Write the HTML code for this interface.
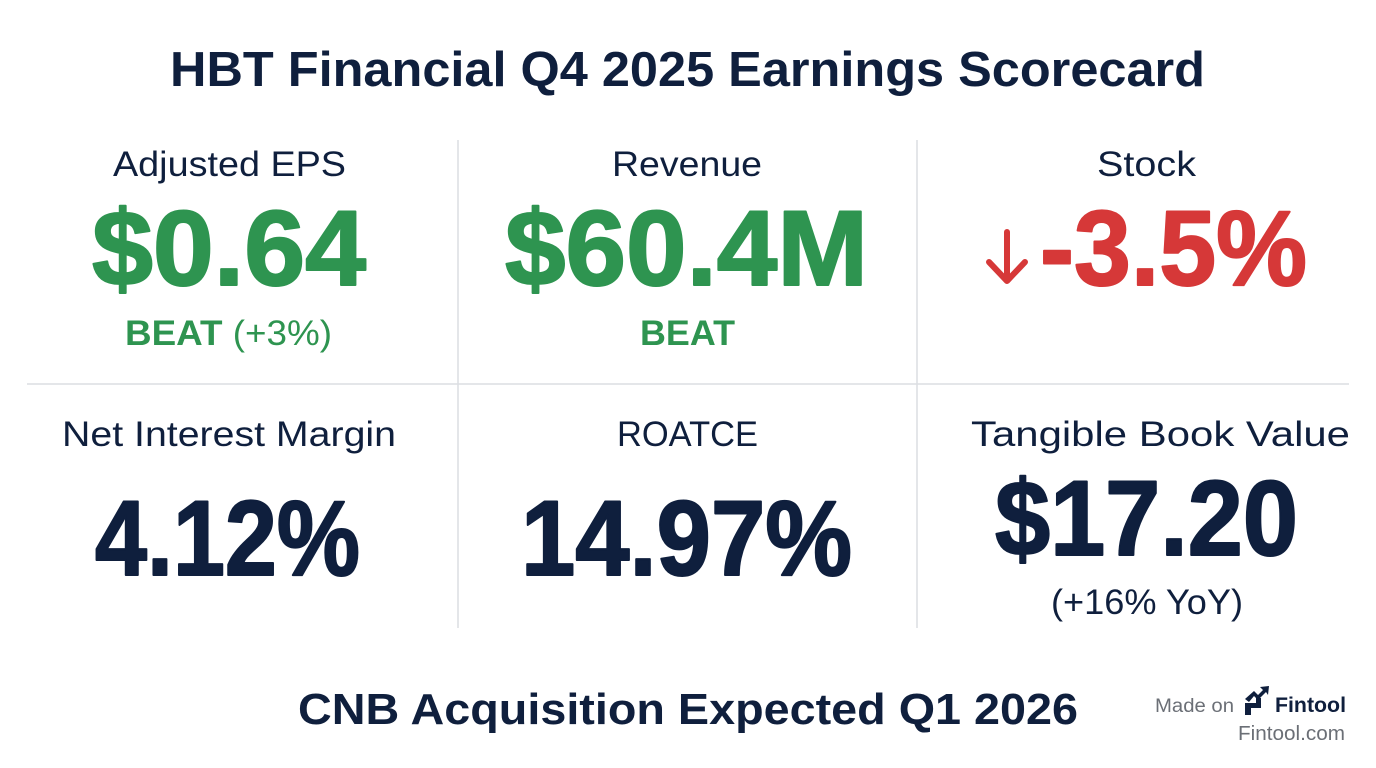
<!DOCTYPE html>
<html><head><meta charset="utf-8"><style>
html,body{margin:0;padding:0;background:#fff}
svg{display:block}
text{font-family:"Liberation Sans",sans-serif}
</style></head><body>
<svg width="1376" height="768" viewBox="0 0 1376 768">
<rect width="1376" height="768" fill="#fff"/>
<g stroke="#dcdee2" stroke-width="1.5">
<line x1="458" y1="140" x2="458" y2="628"/>
<line x1="917" y1="140" x2="917" y2="628"/>
<line x1="27" y1="384" x2="1349" y2="384"/>
</g>
<text x="170" y="86" font-size="49" font-weight="bold" fill="#0f1f3d" textLength="1035" lengthAdjust="spacingAndGlyphs">HBT Financial Q4 2025 Earnings Scorecard</text>

<g fill="#0f1f3d" font-size="35">
<text x="113" y="176" textLength="233" lengthAdjust="spacingAndGlyphs">Adjusted EPS</text>
<text x="612" y="176" textLength="150" lengthAdjust="spacingAndGlyphs">Revenue</text>
<text x="1097" y="176" textLength="99" lengthAdjust="spacingAndGlyphs">Stock</text>
<text x="62" y="446" textLength="334" lengthAdjust="spacingAndGlyphs">Net Interest Margin</text>
<text x="617" y="446" textLength="141" lengthAdjust="spacingAndGlyphs">ROATCE</text>
<text x="971" y="446" textLength="379" lengthAdjust="spacingAndGlyphs">Tangible Book Value</text>
<text x="1051" y="614" textLength="192" lengthAdjust="spacingAndGlyphs">(+16% YoY)</text>
</g>

<g font-size="107" font-weight="bold" stroke-width="2" stroke-linejoin="round">
<text x="92" y="285" fill="#2e9450" stroke="#2e9450" textLength="274" lengthAdjust="spacingAndGlyphs">$0.64</text>
<text x="505" y="285" fill="#2e9450" stroke="#2e9450" textLength="363" lengthAdjust="spacingAndGlyphs">$60.4M</text>
<text x="1040" y="285" fill="#d63838" stroke="#d63838" textLength="267" lengthAdjust="spacingAndGlyphs">-3.5%</text>
<text x="95" y="575" fill="#0f1f3d" stroke="#0f1f3d" textLength="265" lengthAdjust="spacingAndGlyphs">4.12%</text>
<text x="521" y="575" fill="#0f1f3d" stroke="#0f1f3d" textLength="331" lengthAdjust="spacingAndGlyphs">14.97%</text>
<text x="995" y="555" fill="#0f1f3d" stroke="#0f1f3d" textLength="303" lengthAdjust="spacingAndGlyphs">$17.20</text>
</g>
<g stroke="#d63838" stroke-width="6" fill="none" stroke-linecap="round" stroke-linejoin="round">
<line x1="1007" y1="232" x2="1007" y2="280"/>
<polyline points="989,262 1007,281 1025,262"/>
</g>

<g fill="#2e9450" font-size="35">
<text x="125" y="345" textLength="207" lengthAdjust="spacingAndGlyphs"><tspan font-weight="bold">BEAT</tspan> (+3%)</text>
<text x="640" y="345" font-weight="bold" textLength="95" lengthAdjust="spacingAndGlyphs">BEAT</text>
</g>

<text x="298" y="724" font-size="44" font-weight="bold" fill="#0f1f3d" textLength="780" lengthAdjust="spacingAndGlyphs">CNB Acquisition Expected Q1 2026</text>

<text x="1155" y="712" font-size="19" fill="#6b6f76" textLength="79" lengthAdjust="spacingAndGlyphs">Made on</text>
<g fill="#0f1f3d">
<path d="M1245 715 L1245 703 L1256 703 L1256 698 L1261 698 L1261 708 L1251 708 L1251 715 Z"/>
<path d="M1245 699 L1254 691 L1258 695 L1263 690 L1260 687 L1269 686 L1268 695 L1266 692 L1258 700 L1254 696 L1249 702 Z"/>
</g>
<text x="1275" y="712" font-size="21" font-weight="bold" fill="#0f1f3d" textLength="71" lengthAdjust="spacingAndGlyphs">Fintool</text>
<text x="1238" y="740" font-size="20" fill="#6b6f76" textLength="107" lengthAdjust="spacingAndGlyphs">Fintool.com</text>
</svg>
</body></html>
